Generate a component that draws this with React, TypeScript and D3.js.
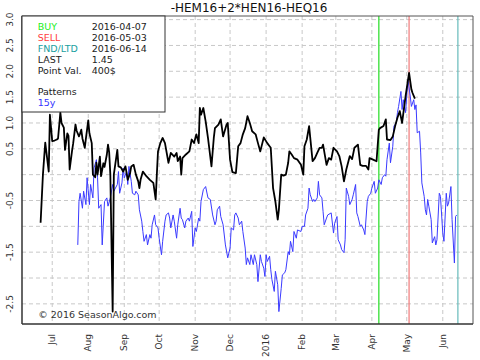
import React from "react";
import * as d3 from "d3";

const title = "-HEM16+2*HEN16-HEQ16";
const monthLabels = ["Jul", "Aug", "Sep", "Oct", "Nov", "Dec", "2016", "Feb", "Mar", "Apr", "May", "Jun"];
const yGrid = [-2.5, -2.0, -1.5, -1.0, -0.5, 0, 0.5, 1.0, 1.5, 2.0, 2.5, 3.0];
const yLabels = ["3.0", "2.5", "2.0", "1.5", "1.0", "0.5", "-0.5", "-1.5", "-2.5"];

const legendKeys = ["BUY", "SELL", "FND/LTD", "LAST", "Point Val."];
const legendValues = ["2016-04-07", "2016-05-03", "2016-06-14", "1.45", "400$"];
const markerDates = ["2016-04-07", "2016-05-03", "2016-06-14"];

const blackDates = [
  "2015-06-21","2015-06-23","2015-06-25","2015-06-26","2015-06-28","2015-06-29","2015-07-01","2015-07-03","2015-07-05","2015-07-06",
  "2015-07-08","2015-07-09","2015-07-11","2015-07-12","2015-07-14","2015-07-15","2015-07-16","2015-07-18","2015-07-19","2015-07-21",
  "2015-07-22","2015-07-24","2015-07-25","2015-07-26","2015-07-27","2015-07-29","2015-07-30","2015-08-01","2015-08-02","2015-08-04",
  "2015-08-05","2015-08-07","2015-08-08","2015-08-09","2015-08-11","2015-08-12","2015-08-14","2015-08-15","2015-08-17","2015-08-18",
  "2015-08-19","2015-08-20","2015-08-22","2015-08-23","2015-08-26","2015-08-27","2015-08-29","2015-08-31","2015-09-02","2015-09-04",
  "2015-09-06","2015-09-07","2015-09-09","2015-09-11","2015-09-13","2015-09-14","2015-09-15","2015-09-17","2015-09-20","2015-09-23",
  "2015-09-26","2015-09-28","2015-09-29","2015-09-30","2015-10-02","2015-10-04","2015-10-06","2015-10-09","2015-10-11","2015-10-14",
  "2015-10-16","2015-10-17","2015-10-19","2015-10-20","2015-10-21","2015-10-24","2015-10-27","2015-10-29","2015-10-31","2015-11-02",
  "2015-11-04","2015-11-05","2015-11-06","2015-11-08","2015-11-10","2015-11-12","2015-11-15","2015-11-17","2015-11-18","2015-11-21",
  "2015-11-23","2015-11-25","2015-11-28","2015-11-29","2015-12-01","2015-12-03","2015-12-06","2015-12-08","2015-12-10","2015-12-12",
  "2015-12-14","2015-12-16","2015-12-18","2015-12-20","2015-12-23","2015-12-25","2015-12-27","2015-12-30","2016-01-02","2016-01-04",
  "2016-01-05","2016-01-07","2016-01-09","2016-01-11","2016-01-12","2016-01-14","2016-01-16","2016-01-18","2016-01-20","2016-01-21",
  "2016-01-23","2016-01-25","2016-01-28","2016-01-31","2016-02-02","2016-02-03","2016-02-05","2016-02-07","2016-02-08","2016-02-10",
  "2016-02-12","2016-02-14","2016-02-16","2016-02-18","2016-02-19","2016-02-22","2016-02-24","2016-02-26","2016-02-28","2016-03-02",
  "2016-03-04","2016-03-06","2016-03-08","2016-03-10","2016-03-13","2016-03-15","2016-03-17","2016-03-20","2016-03-22","2016-03-24",
  "2016-03-27","2016-03-29","2016-03-30","2016-04-02","2016-04-05","2016-04-07","2016-04-08","2016-04-11","2016-04-13","2016-04-14",
  "2016-04-17","2016-04-19","2016-04-21","2016-04-23","2016-04-25","2016-04-27","2016-04-30","2016-05-03","2016-05-05","2016-05-06",
  "2016-05-08",
];
const blackValues = [
  -0.93, 0.0, 0.62, 0.43, 0.06, 1.16, 0.65, 0.66, 0.68, 0.7,
  1.2, 1.0, 0.91, 0.48, 0.8, 0.75, 0.1, 0.45, 0.6, 0.97,
  0.85, 0.74, 0.8, 0.87, 0.7, 0.52, 0.7, 1.05, 0.8, 0.61,
  0.0, -0.05, 0.23, 0.0, 0.35, -0.03, 0.22, 0.15, 0.39, 0.58,
  0.43, 0.0, -2.65, 0.0, 0.48, 0.16, 0.14, 0.06, 0.16, -0.1,
  0.03, 0.16, 0.19, 0.0, -0.13, -0.26, -0.1, 0.06, -0.03, -0.1,
  -0.16, -0.48, 0.0, 0.45, 0.61, 0.71, 0.61, 0.23, 0.42, 0.35,
  0.42, 0.26, 0.35, 0.0, 0.32, 0.39, 0.45, 0.68, 0.61, 0.78,
  0.61, 1.29, 1.16, 1.29, 1.03, 0.71, 0.16, 0.71, 0.9, 0.97,
  1.07, 0.74, 0.97, 1.0, 0.29, 0.05, 0.03, 0.55, 0.61, 0.78,
  0.9, 1.13, 1.0, 0.84, 0.78, 0.61, 0.45, 0.72, 0.61, 0.55,
  0.52, -0.26, -0.52, -0.87, -0.68, 0.0, -0.02, 0.0, 0.23, 0.45,
  0.39, 0.32, 0.29, 0.19, 0.0, 0.55, 0.68, 0.94, 0.71, 0.26,
  0.32, 0.42, 0.52, 0.52, 0.58, 0.19, 0.32, 0.29, 0.52, 0.45,
  0.36, 0.16, -0.13, 0.1, 0.36, 0.3, 0.52, 0.58, 0.19, 0.17,
  0.17, 0.1, 0.32, 0.29, 0.26, 0.87, 0.9, 0.94, 1.07, 0.68,
  0.67, 0.74, 0.94, 1.1, 1.23, 1.0, 1.52, 1.97, 1.65, 1.58,
  1.47,
];

const blueDates = [
  "2015-07-23","2015-07-24","2015-07-25","2015-07-27","2015-07-28","2015-07-30","2015-07-31","2015-08-02","2015-08-03","2015-08-05",
  "2015-08-06","2015-08-08","2015-08-09","2015-08-10","2015-08-12","2015-08-13","2015-08-15","2015-08-17","2015-08-18","2015-08-20",
  "2015-08-22","2015-08-23","2015-08-26","2015-08-27","2015-08-28","2015-08-30","2015-08-31","2015-09-01","2015-09-03","2015-09-04",
  "2015-09-05","2015-09-07","2015-09-08","2015-09-10","2015-09-11","2015-09-13","2015-09-14","2015-09-16","2015-09-17","2015-09-18",
  "2015-09-20","2015-09-21","2015-09-23","2015-09-24","2015-09-25","2015-09-27","2015-09-28","2015-09-30","2015-10-01","2015-10-03",
  "2015-10-04","2015-10-06","2015-10-07","2015-10-09","2015-10-10","2015-10-11","2015-10-13","2015-10-14","2015-10-16","2015-10-17",
  "2015-10-19","2015-10-20","2015-10-21","2015-10-23","2015-10-24","2015-10-26","2015-10-27","2015-10-29","2015-10-30","2015-11-01",
  "2015-11-02","2015-11-04","2015-11-05","2015-11-06","2015-11-08","2015-11-10","2015-11-12","2015-11-14","2015-11-16","2015-11-18",
  "2015-11-19","2015-11-20","2015-11-22","2015-11-23","2015-11-25","2015-11-27","2015-11-29","2015-12-01","2015-12-02","2015-12-04",
  "2015-12-05","2015-12-06","2015-12-08","2015-12-09","2015-12-11","2015-12-12","2015-12-14","2015-12-15","2015-12-16","2015-12-18",
  "2015-12-19","2015-12-21","2015-12-22","2015-12-24","2015-12-25","2015-12-27","2015-12-28","2015-12-30","2015-12-31","2016-01-01",
  "2016-01-02","2016-01-04","2016-01-05","2016-01-06","2016-01-08","2016-01-09","2016-01-11","2016-01-12","2016-01-14","2016-01-15",
  "2016-01-17","2016-01-18","2016-01-20","2016-01-21","2016-01-22","2016-01-24","2016-01-25","2016-01-27","2016-01-28","2016-01-31",
  "2016-02-01","2016-02-03","2016-02-04","2016-02-06","2016-02-07","2016-02-08","2016-02-10","2016-02-11","2016-02-12","2016-02-14",
  "2016-02-15","2016-02-16","2016-02-18","2016-02-19","2016-02-20","2016-02-22","2016-02-23","2016-02-26","2016-02-28","2016-02-29",
  "2016-03-02","2016-03-03","2016-03-05","2016-03-06","2016-03-08","2016-03-09","2016-03-10","2016-03-12","2016-03-13","2016-03-15",
  "2016-03-16","2016-03-18","2016-03-19","2016-03-20","2016-03-22","2016-03-23","2016-03-25","2016-03-26","2016-03-28","2016-03-29",
  "2016-03-31","2016-04-01","2016-04-03","2016-04-04","2016-04-06","2016-04-07","2016-04-09","2016-04-10","2016-04-12","2016-04-13",
  "2016-04-14","2016-04-16","2016-04-17","2016-04-19","2016-04-20","2016-04-22","2016-04-23","2016-04-24","2016-04-26","2016-04-27",
  "2016-04-28","2016-04-30","2016-05-01","2016-05-02","2016-05-04","2016-05-05","2016-05-07","2016-05-08","2016-05-09","2016-05-10",
  "2016-05-12","2016-05-13","2016-05-14","2016-05-16","2016-05-17","2016-05-18","2016-05-19","2016-05-20","2016-05-22","2016-05-23",
  "2016-05-25","2016-05-26","2016-05-27","2016-05-29","2016-05-30","2016-06-01","2016-06-02","2016-06-04","2016-06-05","2016-06-06",
  "2016-06-08","2016-06-09","2016-06-11","2016-06-12","2016-06-13",
];
const blueValues = [
  -1.36, -0.52, -0.36, -0.65, -0.32, -0.58, -0.06, -0.58, -0.19, -0.45,
  0.13, 0.29, -0.06, -0.65, -0.58, -1.36, -0.52, -0.45, -0.61, -0.45,
  -0.19, -0.32, -0.19, 0.06, -0.36, -0.16, 0.13, -0.06, 0.06, -0.19,
  0.16, -0.13, -0.36, -0.39, -0.32, -0.39, -0.68, -0.9, -1.1, -1.29,
  -1.16, -1.36, -1.16, -1.23, -0.97, -0.78, -0.97, -1.03, -1.23, -1.55,
  -1.29, -0.9, -0.78, -0.74, -0.84, -1.03, -0.78, -0.9, -1.23, -0.97,
  -0.65, -0.84, -0.87, -1.03, -0.9, -0.84, -0.9, -0.71, -1.39, -1.03,
  -1.1, -0.84, -0.9, -0.52, -0.29, -0.23, -0.45, -0.48, -0.78, -0.97,
  -0.9, -0.68, -0.61, -0.81, -0.97, -1.36, -1.61, -1.42, -1.03, -1.07,
  -0.78, -0.74, -0.84, -0.97, -0.9, -1.1, -1.42, -1.74, -1.61, -1.74,
  -1.55, -1.74, -1.55, -1.74, -2.07, -1.55, -1.68, -1.81, -1.97, -1.55,
  -1.68, -1.58, -1.84, -2.03, -2.26, -1.87, -2.13, -2.65, -2.2, -1.94,
  -1.9, -1.84, -1.49, -1.55, -1.29, -1.49, -1.1, -1.23, -1.07, -1.1,
  -1.0, -1.0, -0.78, -0.65, -0.26, -0.39, -0.52, -0.48, -0.52, -0.45,
  -0.13, -0.39, -0.45, -0.71, -0.97, -0.84, -0.78, -0.74, -1.13, -0.94,
  -0.81, -1.26, -1.36, -1.45, -1.51, -1.26, -0.26, -0.42, -0.58, -0.48,
  -0.39, -0.19, -0.74, -0.81, -1.0, -0.97, -1.07, -1.16, -0.52, -0.42,
  -0.36, -0.26, -0.13, -0.36, -0.26, -0.1, -0.19, -0.06, 0.0, -0.03,
  0.29, 0.61, 0.23, 0.55, 0.94, 1.0, 1.2, 1.32, 1.61, 1.26,
  1.45, 1.2, 1.52, 1.84, 1.52, 1.32, 1.45, 1.26, 1.35, 0.81,
  0.84, 0.42, -0.16, -0.42, -0.68, -0.78, -0.48, -0.61, -0.87, -1.32,
  -1.2, -1.36, -1.26, -0.36, -0.42, -1.13, -1.29, -0.36, -0.61, -0.55,
  -0.23, -0.87, -1.71, -0.81, -0.78,
];

const W = 480;
const H = 360;
const L = 22, R = 473, T = 16, B = 324;
const FONT = "DejaVu Sans, sans-serif";

export default function App() {
  const parse = d3.timeParse("%Y-%m-%d");
  const x = d3.scaleTime().domain([new Date(2015, 5, 5), new Date(2016, 5, 27)]).range([L, R]);
  const y = d3.scaleLinear().domain([-2.89, 3.07]).range([B, T]);

  const monthTicks = d3.timeMonth.range(new Date(2015, 6, 1), new Date(2016, 6, 1));

  const blackData = blackDates.map((d, i) => ({ d: parse(d) as Date, v: blackValues[i] }));
  const blueData = blueDates.map((d, i) => ({ d: parse(d) as Date, v: blueValues[i] }));
  const line = d3.line<{ d: Date; v: number }>().x((p) => x(p.d)).y((p) => y(p.v));

  const markerColors = ["#22dd22", "#f07878", "#66bbbb"];
  const legendColors = ["#22ee22", "#ff4040", "#20a0a0", "#222", "#222"];

  const rowY = (i: number) => 30.2 + i * 10.83;

  return (
    <svg width={W} height={H} style={{ position: "absolute", left: 0, top: 0, background: "#fff" }} fontFamily={FONT}>
      <rect x={0} y={0} width={W} height={H} fill="#fff" />
      <text x={249} y={12} fontSize={12} textAnchor="middle" fill="#111">{title}</text>

      {/* grid */}
      {yGrid.map((v) => (
        <line key={"hg" + v} x1={L} x2={R} y1={y(v)} y2={y(v)} stroke="#c8c8c8" strokeDasharray="4,3" strokeWidth={1} />
      ))}
      {monthTicks.map((m, i) => (
        <line key={"vg" + i} x1={x(m)} x2={x(m)} y1={T} y2={B} stroke="#c8c8c8" strokeDasharray="4,3" strokeWidth={1} />
      ))}

      {/* marker lines */}
      {markerDates.map((d, i) => (
        <line key={"mk" + i} x1={x(parse(d) as Date)} x2={x(parse(d) as Date)} y1={T} y2={B} stroke={markerColors[i]} strokeWidth={1.2} />
      ))}

      {/* series */}
      <path d={line(blueData) || ""} fill="none" stroke="#3a3aff" strokeWidth={1} strokeLinejoin="round" />
      <path d={line(blackData) || ""} fill="none" stroke="#000" strokeWidth={1.8} strokeLinejoin="round" />

      {/* frame */}
      <line x1={L} x2={R} y1={T} y2={T} stroke="#555" strokeWidth={1} />
      <line x1={R} x2={R} y1={T} y2={B} stroke="#555" strokeWidth={1} />
      <line x1={L} x2={L} y1={T} y2={B} stroke="#333" strokeWidth={1.5} />
      <line x1={L} x2={R} y1={B} y2={B} stroke="#333" strokeWidth={1.5} />

      {/* y labels */}
      {yLabels.map((s) => {
        const yy = y(parseFloat(s));
        return (
          <text key={"yl" + s} transform={`translate(10,${yy}) rotate(-90)`} textAnchor="middle" dominantBaseline="central" fontSize={9} fill="#333">{s}</text>
        );
      })}

      {/* x labels */}
      {monthTicks.map((m, i) => (
        <text key={"xl" + i} transform={`translate(${x(m)},334) rotate(-90)`} textAnchor="end" dominantBaseline="central" fontSize={9} fill="#333">{monthLabels[i]}</text>
      ))}

      {/* legend */}
      <rect x={L} y={T} width={143} height={96} fill="#fff" stroke="#333" strokeWidth={1} />
      {legendKeys.map((k, i) => (
        <g key={"lg" + k}>
          <text x={37.7} y={rowY(i)} fontSize={9.5} fill={legendColors[i]}>{k}</text>
          <text x={91.7} y={rowY(i)} fontSize={9.5} fill="#222">{legendValues[i]}</text>
        </g>
      ))}
      <text x={37.7} y={rowY(6)} fontSize={9.5} fill="#222">Patterns</text>
      <text x={37.7} y={rowY(7)} fontSize={9.5} fill="#3333ff">15y</text>

      <text x={38.3} y={318} fontSize={9.5} fill="#333">© 2016 SeasonAlgo.com</text>
    </svg>
  );
}
